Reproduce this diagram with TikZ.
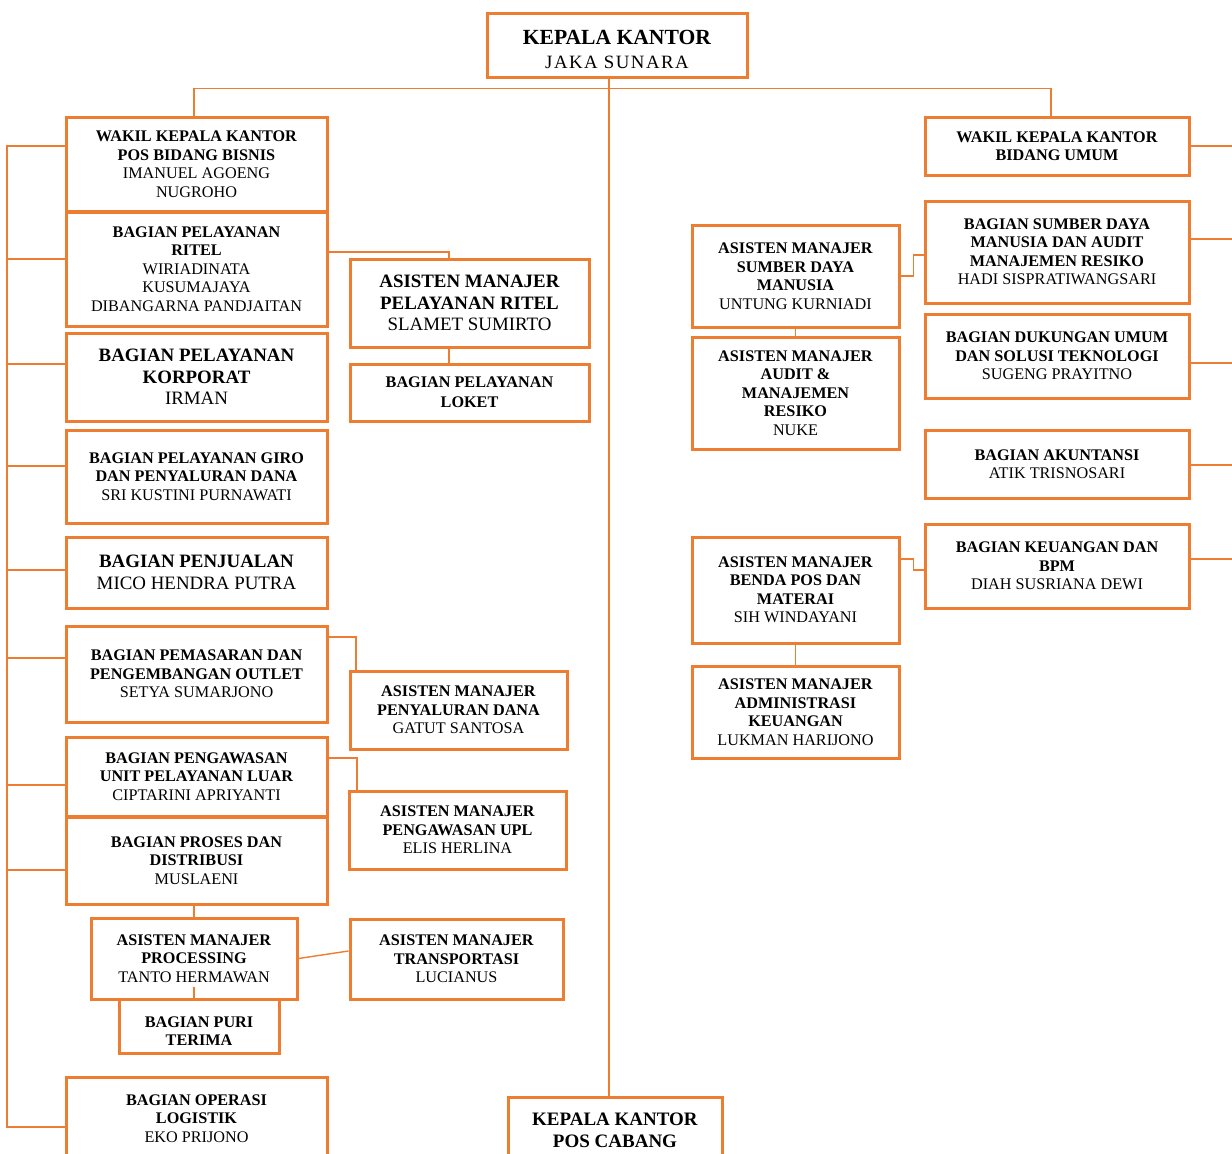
\documentclass[tikz,border=0pt]{standalone}
\usepackage{fontspec}
\setmainfont{Liberation Serif}
\definecolor{orgorange}{HTML}{ED7D31}
\newcommand\orgsmall{\fontsize{16.2}{18.5}\selectfont}
\newcommand\orgbig{\fontsize{18.9}{21.5}\selectfont}
\newcommand\orgtitle{\fontsize{21.6}{24}\selectfont}
\tikzset{
  obox/.style={draw=orgorange, line width=3pt, inner sep=0pt, align=center, text=black, font=\orgsmall},
  conn/.style={draw=orgorange, line width=1.4pt},
}
% name, left, top, right, bottom, options, text
\newcommand\orgbox[7]{\node[obox,#6, minimum width={(#4-#2)*1pt}, minimum height={(#5-#3)*1pt}] (#1) at ({(#2+#4)/2},{(#3+#5)/2}) {#7};}
\begin{document}
\begin{tikzpicture}[x=1pt,y=-1pt]
\useasboundingbox (0,0) rectangle (1232,1154);
% top
\orgbox{kk}{487}{13}{747}{77}{}{}
\node[font=\orgtitle, align=center, inner sep=0pt] (kktxt) at ([yshift=-4.5pt]kk.center) {\textbf{KEPALA KANTOR}\\{\fontsize{18.8}{21}\selectfont\addfontfeatures{LetterSpace=8}JAKA SUNARA}};
% left column
\orgbox{wb}{66}{117}{327}{211}{}{\textbf{WAKIL KEPALA KANTOR}\\\textbf{POS BIDANG BISNIS}\\IMANUEL AGOENG\\NUGROHO}
\orgbox{ritel}{66}{212}{327}{326}{}{\textbf{BAGIAN PELAYANAN}\\\textbf{RITEL}\\WIRIADINATA\\KUSUMAJAYA\\DIBANGARNA PANDJAITAN}
\orgbox{korp}{66}{333}{327}{421}{font=\orgbig}{\textbf{BAGIAN PELAYANAN}\\\textbf{KORPORAT}\\IRMAN}
\orgbox{giro}{66}{430}{327}{523}{}{\textbf{BAGIAN PELAYANAN GIRO}\\\textbf{DAN PENYALURAN DANA}\\SRI KUSTINI PURNAWATI}
\orgbox{jual}{66}{537}{327}{608}{font=\orgbig}{\textbf{BAGIAN PENJUALAN}\\MICO HENDRA PUTRA}
\orgbox{pem}{66}{626}{327}{722}{}{\textbf{BAGIAN PEMASARAN DAN}\\\textbf{PENGEMBANGAN OUTLET}\\SETYA SUMARJONO}
\orgbox{pengw}{66}{737}{327}{816}{}{\textbf{BAGIAN PENGAWASAN}\\\textbf{UNIT PELAYANAN LUAR}\\CIPTARINI APRIYANTI}
\orgbox{proses}{66}{817}{327}{904}{}{\textbf{BAGIAN PROSES DAN}\\\textbf{DISTRIBUSI}\\MUSLAENI}
\orgbox{proc}{91}{918}{297}{999}{}{\textbf{ASISTEN MANAJER}\\\textbf{PROCESSING}\\TANTO HERMAWAN}
\orgbox{puri}{119}{999}{279}{1053}{}{}
\begin{scope}
\clip (100,1000) rectangle (300,1044);
\node[font=\orgsmall, align=center, inner sep=0pt] (puritxt) at (199,1031) {\textbf{BAGIAN PURI}\\\textbf{TERIMA}};
\end{scope}
\orgbox{ol}{66}{1077}{327}{1160}{}{\textbf{BAGIAN OPERASI}\\\textbf{LOGISTIK}\\EKO PRIJONO}
% middle column
\orgbox{amr}{350}{259}{589}{347}{font=\orgbig}{\textbf{ASISTEN MANAJER}\\\textbf{PELAYANAN RITEL}\\SLAMET SUMIRTO}
\orgbox{loket}{350}{364}{589}{421}{}{\textbf{BAGIAN PELAYANAN}\\[1.5pt]\textbf{LOKET}}
\orgbox{pen}{350}{671}{567}{749}{}{\textbf{ASISTEN MANAJER}\\\textbf{PENYALURAN DANA}\\GATUT SANTOSA}
\orgbox{upl}{349}{791}{566}{869}{}{\textbf{ASISTEN MANAJER}\\\textbf{PENGAWASAN UPL}\\ELIS HERLINA}
\orgbox{trans}{350}{919}{563}{999}{}{\textbf{ASISTEN MANAJER}\\\textbf{TRANSPORTASI}\\LUCIANUS}
\orgbox{kpc}{508}{1097}{722}{1163}{font={\fontsize{19}{22}\selectfont}}{\textbf{KEPALA KANTOR}\\\textbf{POS CABANG}}
% right-middle column
\orgbox{amsdm}{692}{225}{899}{327}{}{\textbf{ASISTEN MANAJER}\\\textbf{SUMBER DAYA}\\\textbf{MANUSIA}\\UNTUNG KURNIADI}
\orgbox{audit}{692}{337}{899}{449}{}{\textbf{ASISTEN MANAJER}\\\textbf{AUDIT \&}\\\textbf{MANAJEMEN}\\\textbf{RESIKO}\\NUKE}
\orgbox{benda}{692}{537}{899}{643}{}{\textbf{ASISTEN MANAJER}\\\textbf{BENDA POS DAN}\\\textbf{MATERAI}\\SIH WINDAYANI}
\orgbox{admin}{692}{666}{899}{758}{}{\textbf{ASISTEN MANAJER}\\\textbf{ADMINISTRASI}\\\textbf{KEUANGAN}\\LUKMAN HARIJONO}
% right column
\orgbox{wu}{925}{117}{1189}{175}{}{\textbf{WAKIL KEPALA KANTOR}\\\textbf{BIDANG UMUM}}
\orgbox{bsdm}{925}{201}{1189}{303}{}{\textbf{BAGIAN SUMBER DAYA}\\\textbf{MANUSIA DAN AUDIT}\\\textbf{MANAJEMEN RESIKO}\\HADI SISPRATIWANGSARI}
\orgbox{duk}{925}{314}{1189}{398}{}{\textbf{BAGIAN DUKUNGAN UMUM}\\\textbf{DAN SOLUSI TEKNOLOGI}\\SUGENG PRAYITNO}
\orgbox{akt}{925}{430}{1189}{498}{}{\textbf{BAGIAN AKUNTANSI}\\ATIK TRISNOSARI}
\orgbox{keu}{925}{524}{1189}{608}{}{\textbf{BAGIAN KEUANGAN DAN}\\\textbf{BPM}\\DIAH SUSRIANA DEWI}
% spine and top bar
\coordinate (spine) at (609,0);
\draw[conn] (kk.south -| spine) -- (kpc.north -| spine);
\draw[conn] ([xshift=-2.5pt]wb.north) -- ++(0,-27) -| ([xshift=-6pt]wu.north);
% left bus
\draw[conn] ([yshift=18pt]wb.west) -- ++(-57.5,0) |- ([yshift=-8.5pt]ol.west);
\draw[conn] ([yshift=10pt]ritel.west) -- ++(-57.5,0);
\draw[conn] ([yshift=13pt]korp.west) -- ++(-57.5,0);
\draw[conn] ([yshift=10.5pt]giro.west) -- ++(-57.5,0);
\draw[conn] ([yshift=2.5pt]jual.west) -- ++(-57.5,0);
\draw[conn] ([yshift=16pt]pem.west) -- ++(-57.5,0);
\draw[conn] ([yshift=-8.5pt]pengw.west) -- ++(-57.5,0);
\draw[conn] ([yshift=-9.5pt]proses.west) -- ++(-57.5,0);
% left branches to assistants
\draw[conn] ([yshift=17pt]ritel.east) -| ([xshift=-20.5pt]amr.north);
\draw[conn] ([xshift=-20.5pt]amr.south) -- ([xshift=-20.5pt]loket.north);
\draw[conn] ([yshift=37pt]pem.east) -| ([xshift=-102.5pt]pen.north);
\draw[conn] ([yshift=18.5pt]pengw.east) -| ([xshift=-100.5pt]upl.north);
\draw[conn] (proses.south -| proc.north) -- (proc.north);
\draw[conn] (proc.east) -- ([yshift=8pt]trans.west);
\draw[conn] ([yshift=14pt]proc.south) -- ([xshift=-5pt]puri.north);
% right-middle connectors
\draw[conn] (amsdm.east) -- ++(13,0) |- ([yshift=-3pt]bsdm.west);
\draw[conn] (amsdm.south) -- (audit.north);
\draw[conn] ([yshift=31pt]benda.east) -- ++(13,0) |- ([yshift=-4pt]keu.west);
\draw[conn] (benda.south) -- (admin.north);
% right stubs
\draw[conn] (wu.east) -- ++(45,0);
\draw[conn] ([yshift=13pt]bsdm.east) -- ++(45,0);
\draw[conn] ([yshift=-7pt]duk.east) -- ++(45,0);
\draw[conn] ([yshift=-1pt]akt.east) -- ++(45,0);
\draw[conn] ([yshift=7pt]keu.east) -- ++(45,0);
\end{tikzpicture}
\end{document}
